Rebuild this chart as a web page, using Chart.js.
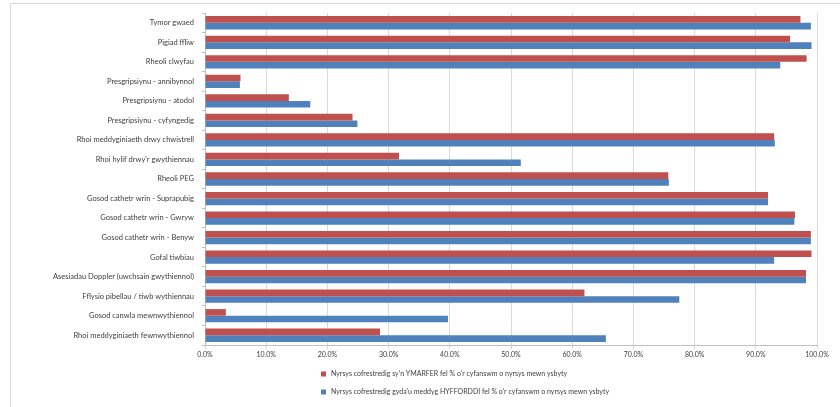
<!DOCTYPE html>
<html>
<head>
<meta charset="utf-8">
<script src="https://cdn.jsdelivr.net/npm/chart.js@4/dist/chart.umd.min.js"></script>
<style>
	html, body { margin: 0; padding: 0; background: #fff; }
	#wrap { width: 840px; height: 407px; }
</style>
</head>
<body>
<div id="wrap"><canvas id="chart" width="840" height="407"></canvas></div>
<script>
const categories = [
	"Tymor gwaed",
	"Pigiad ffliw",
	"Rheoli clwyfau",
	"Presgripsiynu - annibynnol",
	"Presgripsiynu - atodol",
	"Presgripsiynu - cyfyngedig",
	"Rhoi meddyginiaeth drwy chwistrell",
	"Rhoi hylif drwy'r gwythiennau",
	"Rheoli PEG",
	"Gosod cathetr wrin - Suprapubig",
	"Gosod cathetr wrin - Gwryw",
	"Gosod cathetr wrin - Benyw",
	"Gofal tiwbiau",
	"Asesiadau Doppler (uwchsain gwythiennol)",
	"Fflysio pibellau / tiwb wythiennau",
	"Gosod canwla mewnwythiennol",
	"Rhoi meddyginiaeth fewnwythiennol"
];

const practisingLabel = "Nyrsys cofrestredig sy'n YMARFER fel % o'r cyfanswm o nyrsys mewn ysbyty";
const practisingValues = [97.3, 95.6, 98.3, 5.8, 13.7, 24.1, 93.0, 31.7, 75.7, 92.0, 96.4, 99.0, 99.1, 98.2, 62.0, 3.4, 28.6];

const trainedLabel = "Nyrsys cofrestredig gyda'u meddyg HYFFORDDI fel % o'r cyfanswm o nyrsys mewn ysbyty";
const trainedValues = [99.0, 99.1, 94.0, 5.7, 17.2, 24.9, 93.1, 51.6, 75.8, 92.0, 96.3, 99.0, 93.0, 98.2, 77.5, 39.7, 65.5];

const xTicks = [0, 10, 20, 30, 40, 50, 60, 70, 80, 90, 100];

const RED = '#c0504d';
const BLUE = '#4f81bd';
const FONT = 'Lato, "Open Sans", sans-serif';

// legend drawn by hand so each item sits on its own row, like the original
const stackedLegend = {
	id: 'stacked_legend',
	afterDraw: (chart) => {
		const ctx = chart.ctx;
		ctx.save();
		// outer frame
		ctx.strokeStyle = '#d9d9d9';
		ctx.lineWidth = 1;
		ctx.strokeRect(10.5, 3.5, 830, 410);
		ctx.font = '7px ' + FONT;
		ctx.textBaseline = 'middle';
		chart.data.datasets.forEach((ds, i) => {
			const y = 374 + i * 18;
			ctx.fillStyle = ds.backgroundColor;
			ctx.fillRect(321, y - 2.5, 5, 5);
			ctx.fillStyle = '#404040';
			ctx.fillText(ds.label, 331, y);
		});
		ctx.restore();
	}
};

new Chart(document.getElementById('chart').getContext('2d'), {
	type: 'bar',
	data: {
		labels: categories,
		datasets: [
			{ label: practisingLabel, data: practisingValues, backgroundColor: RED },
			{ label: trainedLabel, data: trainedValues, backgroundColor: BLUE }
		]
	},
	options: {
		indexAxis: 'y',
		responsive: false,
		animation: false,
		categoryPercentage: 0.68,
		barPercentage: 1,
		layout: { padding: { left: 10, right: 23, top: 13, bottom: 42 } },
		scales: {
			x: {
				min: 0,
				max: 100,
				afterBuildTicks: (s) => { s.ticks = xTicks.map(v => ({ value: v })); },
				afterFit: (s) => { s.height = 20; },
				ticks: {
					color: '#404040',
					font: { family: FONT, size: 7 },
					padding: 2,
					maxRotation: 0,
					callback: (v) => v.toFixed(1) + '%'
				},
				grid: { color: '#d9d9d9', tickLength: 4 },
				border: { color: '#bfbfbf' }
			},
			y: {
				afterFit: (s) => { s.width = 195; },
				ticks: {
					color: '#404040',
					font: { family: FONT, size: 7.5 },
					padding: 8,
					autoSkip: false
				},
				grid: { display: true, drawOnChartArea: false, tickLength: 3, color: '#bfbfbf' },
				border: { color: '#bfbfbf' }
			}
		},
		plugins: {
			legend: { display: false },
			title: { display: false },
			tooltip: { enabled: false }
		}
	},
	plugins: [stackedLegend]
});
</script>
</body>
</html>
